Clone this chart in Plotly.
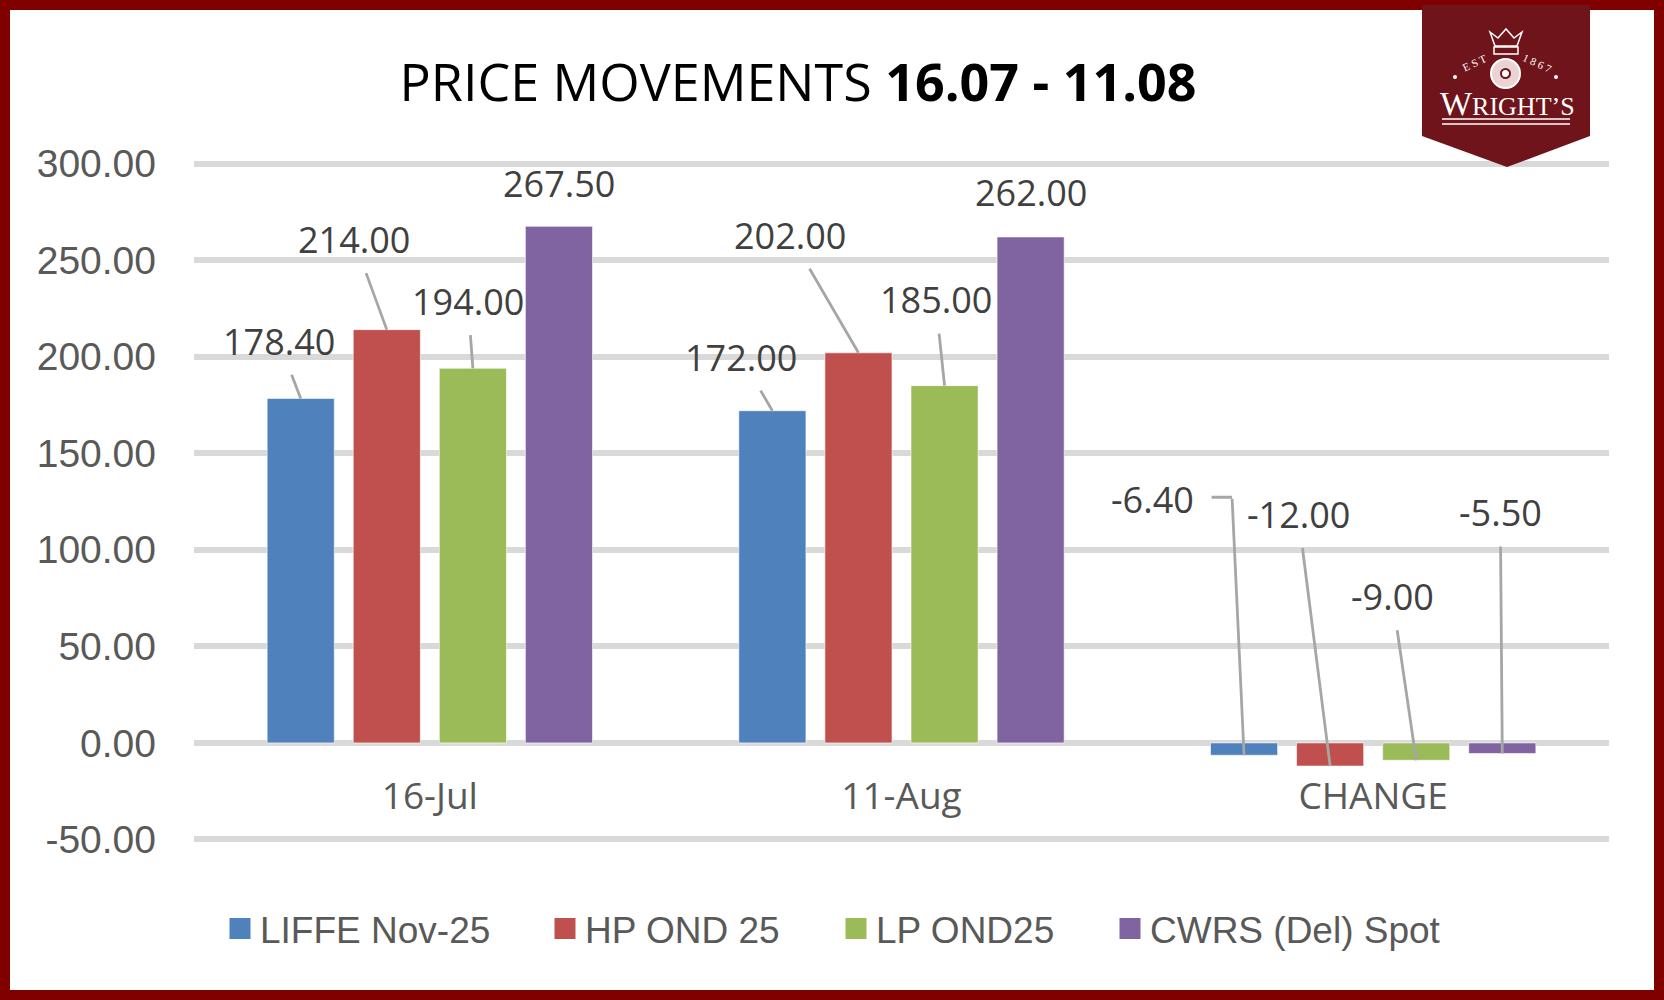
import plotly.graph_objects as go

# chart data
categories = ["16-Jul", "11-Aug", "CHANGE"]
series_names = ["LIFFE Nov-25", "HP OND 25", "LP OND25", "CWRS (Del) Spot"]
liffe_nov25 = [178.40, 172.00, -6.40]
hp_ond25 = [214.00, 202.00, -12.00]
lp_ond25 = [194.00, 185.00, -9.00]
cwrs_spot = [267.50, 262.00, -5.50]
y_ticks = [-50, 0, 50, 100, 150, 200, 250, 300]
y_ticktext = ["%.2f" % v for v in y_ticks]

series_values = [liffe_nov25, hp_ond25, lp_ond25, cwrs_spot]
colors = ["#4F81BD", "#C0504D", "#9BBB59", "#8064A2"]

# label placement: pixel offset of the label from the bar end, and the leader
# (None = no leader, "line" = straight, (dx, dy) = bent at that corner offset)
label_offsets = [
    [(-22, -57, "line"), (-31, -53, "line"), (-92, -256, (-12, -258))],
    [(-33, -90, "line"), (-68, -117, "line"), (-32, -252, "line")],
    [(-5, -67, "line"), (-9, -86, "line"), (-24, -164, "line")],
    [(0, -43, None), (0, -44, None), (-2, -241, "line")],
]

W, H = 1664, 1000
M = dict(l=194, r=55, t=162, b=159)
Y_RANGE = [-50.8, 300.8]  # a bit wider so plotly keeps the end gridlines
BAR_GAP = 0.27
LABEL_FONT = "Open Sans"
LOGO_RED = "#6E141A"
LEADER = dict(arrowhead=0, arrowwidth=2.8, arrowcolor="#A6A6A6")


def px(x):
    return (x - M["l"]) / (W - M["l"] - M["r"])


def py(y):
    return (H - M["b"] - y) / (H - M["t"] - M["b"])


def logo_text(x, y, text, size, angle=0):
    fig.add_annotation(xref="paper", yref="paper", x=px(x), y=py(y), text=text,
                       xanchor="center", yanchor="middle", textangle=angle,
                       showarrow=False,
                       font=dict(family="Liberation Serif", size=size, color="white"))


legend_centers = [240, 565, 856, 1130]

fig = go.Figure()
for i, (name, vals) in enumerate(zip(series_names, series_values)):
    leg = "legend" if i == 0 else "legend%d" % (i + 1)
    fig.add_trace(go.Bar(
        x=categories, y=vals, name=name, showlegend=False,
        marker=dict(color=colors[i], line=dict(color="rgba(255,255,255,0.6)", width=1)),
    ))
    # legend entry with a larger square swatch
    fig.add_trace(go.Scatter(
        x=[None], y=[None], mode="markers", name=name, legend=leg,
        marker=dict(symbol="square", size=16, color=colors[i],
                    line=dict(color=colors[i], width=5)),
    ))

label_font = dict(family=LABEL_FONT, size=36, color="#404040")
slot = (1 - BAR_GAP) / len(series_values)
for i, vals in enumerate(series_values):
    for j, v in enumerate(vals):
        x = j + (i - (len(series_values) - 1) / 2) * slot
        dx, dy, leader = label_offsets[i][j]
        if leader == "line":
            fig.add_annotation(x=x, y=v, text="%.2f" % v, showarrow=True,
                               ax=dx, ay=dy, startstandoff=8, font=label_font, **LEADER)
        else:
            fig.add_annotation(x=x, y=v, text="%.2f" % v, showarrow=False,
                               xshift=dx, yshift=-dy, yanchor="middle", font=label_font)
        if isinstance(leader, tuple):
            cdx, cdy = leader
            # vertical run from corner down to the bar, then short run back to the label
            fig.add_annotation(x=x, y=v, text="", showarrow=True, ax=cdx, ay=cdy, **LEADER)
            fig.add_annotation(x=x, y=v, text="", showarrow=True, xshift=cdx, yshift=-cdy,
                               ax=-22, ay=0, **LEADER)

# outer frame
fig.add_shape(type="rect", xref="paper", yref="paper",
              x0=px(5), x1=px(W - 5), y0=py(5), y1=py(H - 5),
              line=dict(color="#800000", width=10), layer="above")

# logo badge
badge = "M{},{} L{},{} L{},{} L{},{} L{},{} Z".format(
    px(1422), py(5), px(1590), py(5), px(1590), py(136), px(1507), py(167), px(1422), py(136))
fig.add_shape(type="path", xref="paper", yref="paper", path=badge,
              fillcolor=LOGO_RED, line=dict(width=0), layer="above")
crown = "M{},{} L{},{} L{},{} L{},{} L{},{} L{},{} L{},{} Z".format(
    px(1490), py(32), px(1495), py(46), px(1517), py(46), px(1522), py(32),
    px(1514), py(38), px(1506), py(29), px(1498), py(38))
fig.add_shape(type="path", xref="paper", yref="paper", path=crown,
              line=dict(color="white", width=1.5), layer="above")
fig.add_shape(type="rect", xref="paper", yref="paper",
              x0=px(1494), x1=px(1518), y0=py(47), y1=py(54),
              line=dict(color="white", width=1.5), layer="above")
fig.add_shape(type="circle", xref="paper", yref="paper",
              x0=px(1491), x1=px(1520), y0=py(59), y1=py(88),
              fillcolor="#EBD3D3", line=dict(color="white", width=2), layer="above")
fig.add_shape(type="circle", xref="paper", yref="paper",
              x0=px(1501), x1=px(1510), y0=py(69), y1=py(78),
              fillcolor="white", line=dict(color=LOGO_RED, width=2), layer="above")
for cx in (1455, 1556):
    fig.add_shape(type="circle", xref="paper", yref="paper",
                  x0=px(cx - 2), x1=px(cx + 2), y0=py(75), y1=py(79),
                  fillcolor="white", line=dict(width=0), layer="above")
for yy in (119, 124):
    fig.add_shape(type="line", xref="paper", yref="paper",
                  x0=px(1442), x1=px(1570), y0=py(yy), y1=py(yy),
                  line=dict(color="white", width=1.5), layer="above")
logo_text(1474, 63, "E S T", 11, -25)
logo_text(1537, 63, "1 8 6 7", 11, 25)
logo_text(1507, 103, "W<span style='font-size:26px'>RIGHT’S</span>", 34)

layout_legends = {}
for i, c in enumerate(legend_centers):
    key = "legend" if i == 0 else "legend%d" % (i + 1)
    layout_legends[key] = dict(
        x=px(c - 20), xanchor="left", y=py(929), yanchor="middle",
        orientation="h", bgcolor="rgba(0,0,0,0)",
        font=dict(family="Liberation Sans", size=37, color="#595959"),
    )

fig.update_layout(
    width=W, height=H,
    margin=M,
    showlegend=True,
    paper_bgcolor="white", plot_bgcolor="white",
    barmode="group", bargap=BAR_GAP, bargroupgap=0.22,
    title=dict(text="PRICE MOVEMENTS <b>16.07 - 11.08</b>",
               x=798 / W, xanchor="center", y=1 - 83 / H, yanchor="middle",
               font=dict(family=LABEL_FONT, size=52, color="black")),
    xaxis=dict(type="category", anchor="free",
               position=(0 - Y_RANGE[0]) / (Y_RANGE[1] - Y_RANGE[0]),
               showgrid=False, showline=False, zeroline=False, ticks="",
               ticklabelstandoff=28,
               tickfont=dict(family=LABEL_FONT, size=37, color="#595959")),
    yaxis=dict(range=Y_RANGE, tickvals=y_ticks, ticktext=y_ticktext,
               showgrid=True, gridcolor="#D9D9D9", gridwidth=6,
               zeroline=True, zerolinecolor="#D9D9D9", zerolinewidth=6,
               showline=False, ticks="", ticklabelstandoff=37,
               tickfont=dict(family="Liberation Sans", size=39, color="#595959")),
    **layout_legends,
)

fig.write_html("out.html", config={"displayModeBar": False},
               post_script="document.body.style.margin = '0';")
